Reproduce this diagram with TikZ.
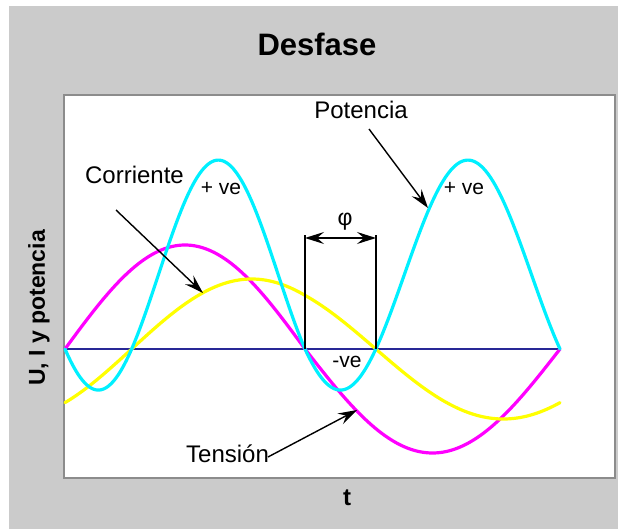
\documentclass[tikz,border=0pt]{standalone}
\usepackage{fontspec}
\setmainfont{Liberation Sans}
\usetikzlibrary{arrows.meta}
\definecolor{bggray}{RGB}{203,203,203}
\definecolor{framegray}{RGB}{140,140,140}
\definecolor{axisblue}{RGB}{40,40,150}
\definecolor{vmag}{RGB}{255,0,255}
\definecolor{iyel}{RGB}{255,255,0}
\definecolor{pcyan}{RGB}{0,240,255}
\begin{document}
\begin{tikzpicture}[x=1pt,y=-1pt,
  declare function={th(\t)=(\t<305)*((\t-65)/240*180)+(\t>=305)*(180+(\t-305)/255*180);},
  curve/.style={line width=3.2pt, line join=round, line cap=round},
  lbl/.style={inner sep=0pt, font=\fontsize{24}{24}\selectfont},
  smalllbl/.style={inner sep=0pt, font=\fontsize{21}{21}\selectfont},
  boldlbl/.style={inner sep=0pt, font=\bfseries\fontsize{#1}{#1}\selectfont},
  pointer/.style={line width=1.4pt, -{Stealth[length=19pt,width=12pt,inset=7pt]}},
  phiarrow/.style={line width=1.4pt, {Stealth[length=19pt,width=12pt,inset=7pt]}-{Stealth[length=19pt,width=12pt,inset=7pt]}},
]
\useasboundingbox (0,0) rectangle (618,529);
% background panel and plot area
\fill[bggray] (9,6) rectangle (618,529);
\draw[framegray, line width=2pt, fill=white] (64,95) rectangle (615,478);

% axis
\coordinate (ax0) at (65,349);
\coordinate (ax1) at (560,349);
\draw[axisblue, line width=2pt] (ax0) -- (ax1);

% curves
\draw[curve, vmag] plot[domain=65:560, samples=220] (\x, {349-104*sin(th(\x))});
\draw[curve, iyel] plot[domain=65:560, samples=220] (\x, {349-70*sin(th(\x)-50)});
\draw[curve, pcyan] plot[domain=65:560, samples=260] (\x, {349-230*sin(th(\x))*sin(th(\x)-50)});

% phase markers
\coordinate (v1b) at (305,349);
\coordinate (v1t) at (305,235);
\coordinate (v2b) at (376,349);
\coordinate (v2t) at (376,235);
\draw[line width=1.2pt] (v1b) -- (v1t);
\draw[line width=1.2pt] (v2b) -- (v2t);
\coordinate (pa) at (305,238);
\coordinate (pb) at (376,238);
\draw[phiarrow] (pa) -- (pb);
\node[inner sep=0pt, font=\fontsize{23}{23}\selectfont] (phi) at (345,222) {φ};

% texts
\node[boldlbl=31] (title) at (317,44) {Desfase};
\node[boldlbl=23, rotate=90] (ylab) at (39,308) {U, I y potencia};
\node[boldlbl=24] (tlab) at (347,498) {t};

\node[lbl] (pot) at (361,110) {Potencia};
\node[lbl] (cor) at (134.5,175) {Corriente};
\node[lbl] (ten) at (227.5,454) {Tensión};
\node[smalllbl] (pve1) at (221,189) {+ ve};
\node[smalllbl] (pve2) at (464,189) {+ ve};
\node[smalllbl] (nve) at (347,362) {-ve};

% pointers
\coordinate (potT) at (369,129);
\coordinate (potH) at (428,208);
\draw[pointer] (potT) -- (potH);
\coordinate (corT) at (116,210);
\coordinate (corH) at (203,293);
\draw[pointer] (corT) -- (corH);
\coordinate (tenT) at (268,457);
\coordinate (tenH) at (357,410);
\draw[pointer] (tenT) -- (tenH);
\end{tikzpicture}
\end{document}
